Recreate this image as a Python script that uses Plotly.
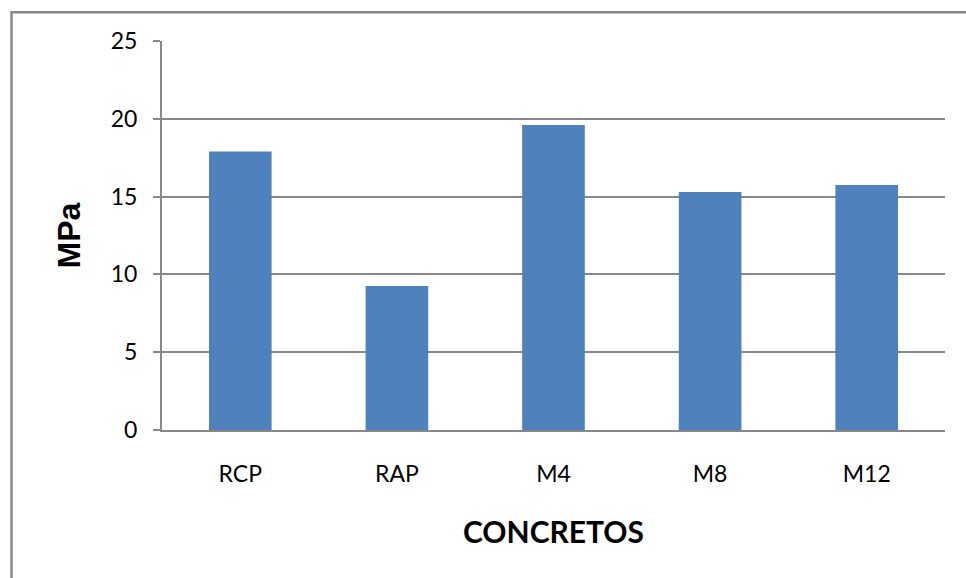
import plotly.graph_objects as go

# Compressive strength per concrete mix
categories = ["RCP", "RAP", "M4", "M8", "M12"]
mpa_values = [17.9, 9.25, 19.6, 15.3, 15.75]
y_tick_values = [0, 5, 10, 15, 20, 25]

BAR_COLOR = "#4F81BD"
GRID_COLOR = "#888888"

fig = go.Figure(
    go.Bar(
        x=categories,
        y=mpa_values,
        marker=dict(color=BAR_COLOR, line=dict(width=0)),
    )
)

fig.update_layout(
    width=966,
    height=578,
    margin=dict(l=162, r=21, t=41, b=148),
    paper_bgcolor="white",
    plot_bgcolor="white",
    bargap=0.6,
    showlegend=False,
    font=dict(family="Lato", color="#000000"),
    shapes=[
        # outer chart frame (right and bottom edges fall off the page)
        dict(
            type="rect",
            xref="paper",
            yref="paper",
            x0=-0.1922,
            x1=1.2,
            y0=-0.6,
            y1=1.0737,
            line=dict(color=GRID_COLOR, width=2.5),
            fillcolor="rgba(0,0,0,0)",
            layer="below",
        )
    ],
)

fig.update_yaxes(
    range=[0, 25],
    tickvals=y_tick_values,
    showgrid=True,
    gridcolor=GRID_COLOR,
    gridwidth=1.7,
    zeroline=False,
    showline=True,
    linecolor=GRID_COLOR,
    linewidth=2,
    ticks="outside",
    ticklen=7,
    tickwidth=1.7,
    tickcolor=GRID_COLOR,
    ticklabelstandoff=11,
    tickfont=dict(family="Lato", size=23, color="#000000"),
    title=dict(
        text="MPa",
        font=dict(family="Liberation Sans", size=32, color="#000000", weight="bold"),
        standoff=21,
    ),
)

fig.update_xaxes(
    showgrid=False,
    showline=True,
    linecolor=GRID_COLOR,
    linewidth=1.7,
    ticks="",
    ticklabelstandoff=23,
    tickfont=dict(family="Lato", size=23, color="#000000"),
    title=dict(
        text="CONCRETOS",
        font=dict(family="Lato", size=30, color="#000000", weight="bold"),
        standoff=36,
    ),
)

fig.write_html("out.html")
